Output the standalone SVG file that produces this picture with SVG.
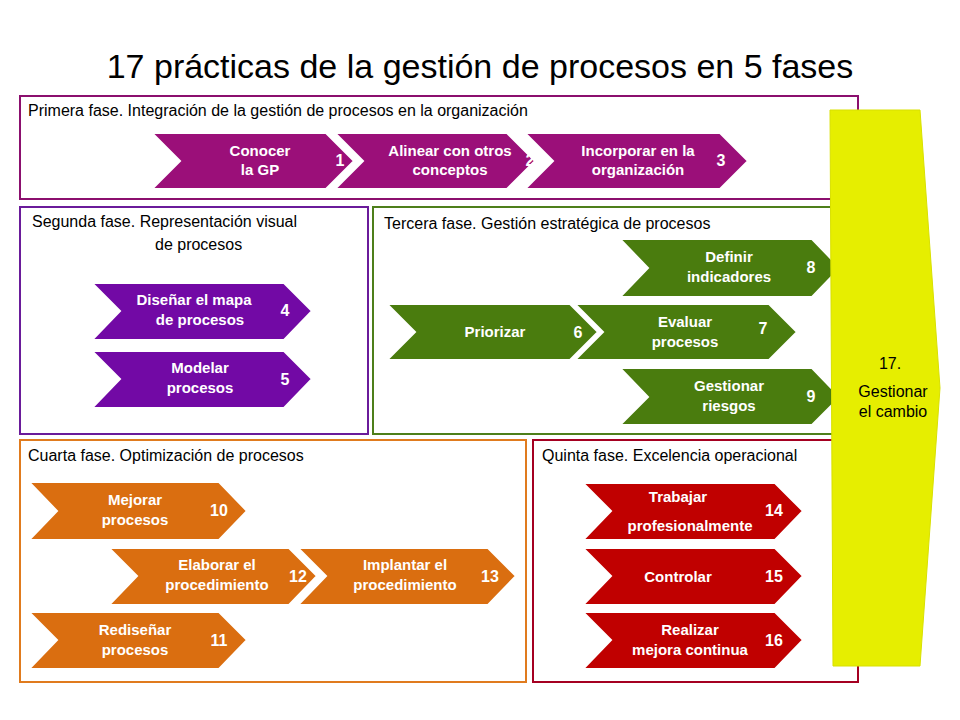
<svg xmlns="http://www.w3.org/2000/svg" width="960" height="720" viewBox="0 0 960 720">
<style>
text{font-family:"Liberation Sans",Arial,sans-serif}
.t{font-size:34px;fill:#000}
.ph{font-size:16px;fill:#000}
.c{font-size:15px;font-weight:bold;fill:#fff;text-anchor:middle}
.n{font-size:16px;font-weight:bold;fill:#fff;text-anchor:middle}
.box{fill:#fff;stroke-width:2}
.chev{stroke:#fff;stroke-width:2}
.p1{fill:#9B0F79}.p2{fill:#7209A5}.p3{fill:#4A7C0E}.p4{fill:#DA6E10}.p5{fill:#C00000}
</style>
<rect width="960" height="720" fill="#fff"/>
<text class="t" x="480" y="78" text-anchor="middle">17 prácticas de la gestión de procesos en 5 fases</text>
<g id="phase1">
<rect class="box" x="20" y="96" width="838" height="103" stroke="#8B0F6E"/>
<text class="ph" x="28" y="116">Primera fase. Integración de la gestión de procesos en la organización</text>
</g>
<g id="phase2">
<rect class="box" x="20" y="207" width="348" height="227" stroke="#6A1B9A"/>
<text class="ph" x="32" y="227">Segunda fase. Representación visual</text>
<text class="ph" x="155" y="250">de procesos</text>
</g>
<g id="phase3">
<rect class="box" x="373" y="207" width="485" height="227" stroke="#4E7F1A"/>
<text class="ph" x="384" y="229">Tercera fase. Gestión estratégica de procesos</text>
</g>
<g id="phase4">
<rect class="box" x="20" y="440" width="506" height="242" stroke="#E07B1E"/>
<text class="ph" x="28" y="461">Cuarta fase. Optimización de procesos</text>
</g>
<g id="phase5">
<rect class="box" x="533" y="440" width="325" height="242" stroke="#A50021"/>
<text class="ph" x="542" y="461">Quinta fase. Excelencia operacional</text>
</g>
<g id="n1"><polygon class="chev p1" points="152,133 326,133 354,161 326,189 152,189 180,161"/><text class="c" x="260" y="156">Conocer</text><text class="c" x="260" y="175">la GP</text><text class="n" x="340" y="166">1</text></g>
<g id="n2"><polygon class="chev p1" points="335,133 507,133 535,161 507,189 335,189 363,161"/><text class="c" x="450" y="156">Alinear con otros</text><text class="c" x="450" y="175">conceptos</text><text class="n" x="530" y="166">2</text></g>
<g id="n3"><polygon class="chev p1" points="525,133 720,133 748,161 720,189 525,189 553,161"/><text class="c" x="638" y="156">Incorporar en la</text><text class="c" x="638" y="175">organización</text><text class="n" x="721" y="166">3</text></g>
<g id="n4"><polygon class="chev p2" points="92,283 284,283 312,311 284,340 92,340 120,311"/><text class="c" x="194" y="305">Diseñar el mapa</text><text class="c" x="200" y="325">de procesos</text><text class="n" x="285" y="316">4</text></g>
<g id="n5"><polygon class="chev p2" points="92,351 284,351 312,379 284,408 92,408 120,379"/><text class="c" x="200" y="373">Modelar</text><text class="c" x="200" y="393">procesos</text><text class="n" x="285" y="385">5</text></g>
<g id="n8"><polygon class="chev p3" points="620,239 812,239 840,268 812,297 620,297 648,268"/><text class="c" x="729" y="262">Definir</text><text class="c" x="729" y="282">indicadores</text><text class="n" x="811" y="273">8</text></g>
<g id="n6"><polygon class="chev p3" points="387,304 570,304 598,332 570,360 387,360 415,332"/><text class="c" x="495" y="337">Priorizar</text><text class="n" x="578" y="338">6</text></g>
<g id="n7"><polygon class="chev p3" points="575,304 769,304 797,332 769,360 575,360 603,332"/><text class="c" x="685" y="327">Evaluar</text><text class="c" x="685" y="347">procesos</text><text class="n" x="763" y="334">7</text></g>
<g id="n9"><polygon class="chev p3" points="620,368 812,368 840,397 812,425 620,425 648,397"/><text class="c" x="729" y="391">Gestionar</text><text class="c" x="729" y="411">riesgos</text><text class="n" x="811" y="402">9</text></g>
<g id="n10"><polygon class="chev p4" points="29,482 219,482 247,511 219,540 29,540 57,511"/><text class="c" x="135" y="505">Mejorar</text><text class="c" x="135" y="525">procesos</text><text class="n" x="219" y="516">10</text></g>
<g id="n12"><polygon class="chev p4" points="109,548 289,548 317,576 289,605 109,605 137,576"/><text class="c" x="217" y="570">Elaborar el</text><text class="c" x="217" y="590">procedimiento</text><text class="n" x="298" y="582">12</text></g>
<g id="n13"><polygon class="chev p4" points="298,548 488,548 516,576 488,605 298,605 326,576"/><text class="c" x="405" y="570">Implantar el</text><text class="c" x="405" y="590">procedimiento</text><text class="n" x="490" y="582">13</text></g>
<g id="n11"><polygon class="chev p4" points="29,612 219,612 247,640 219,669 29,669 57,640"/><text class="c" x="135" y="635">Rediseñar</text><text class="c" x="135" y="655">procesos</text><text class="n" x="219" y="646">11</text></g>
<g id="n14"><polygon class="chev p5" points="583,483 775,483 803,511 775,540 583,540 611,511"/><text class="c" x="678" y="502">Trabajar</text><text class="c" x="690" y="531">profesionalmente</text><text class="n" x="774" y="516">14</text></g>
<g id="n15"><polygon class="chev p5" points="583,548 775,548 803,576 775,605 583,605 611,576"/><text class="c" x="678" y="582">Controlar</text><text class="n" x="774" y="582">15</text></g>
<g id="n16"><polygon class="chev p5" points="583,612 775,612 803,640 775,669 583,669 611,640"/><text class="c" x="690" y="635">Realizar</text><text class="c" x="690" y="655">mejora continua</text><text class="n" x="774" y="646">16</text></g>
<g id="n17"><polygon points="830,110 920,110 940,388 920,666 833,666" fill="#E6EE00" stroke="#D8E000" stroke-width="1"/><text class="ph" x="890" y="369" text-anchor="middle">17.</text><text class="ph" x="893" y="397" text-anchor="middle">Gestionar</text><text class="ph" x="893" y="417" text-anchor="middle">el cambio</text></g>
<g id="connectors"></g>
</svg>
